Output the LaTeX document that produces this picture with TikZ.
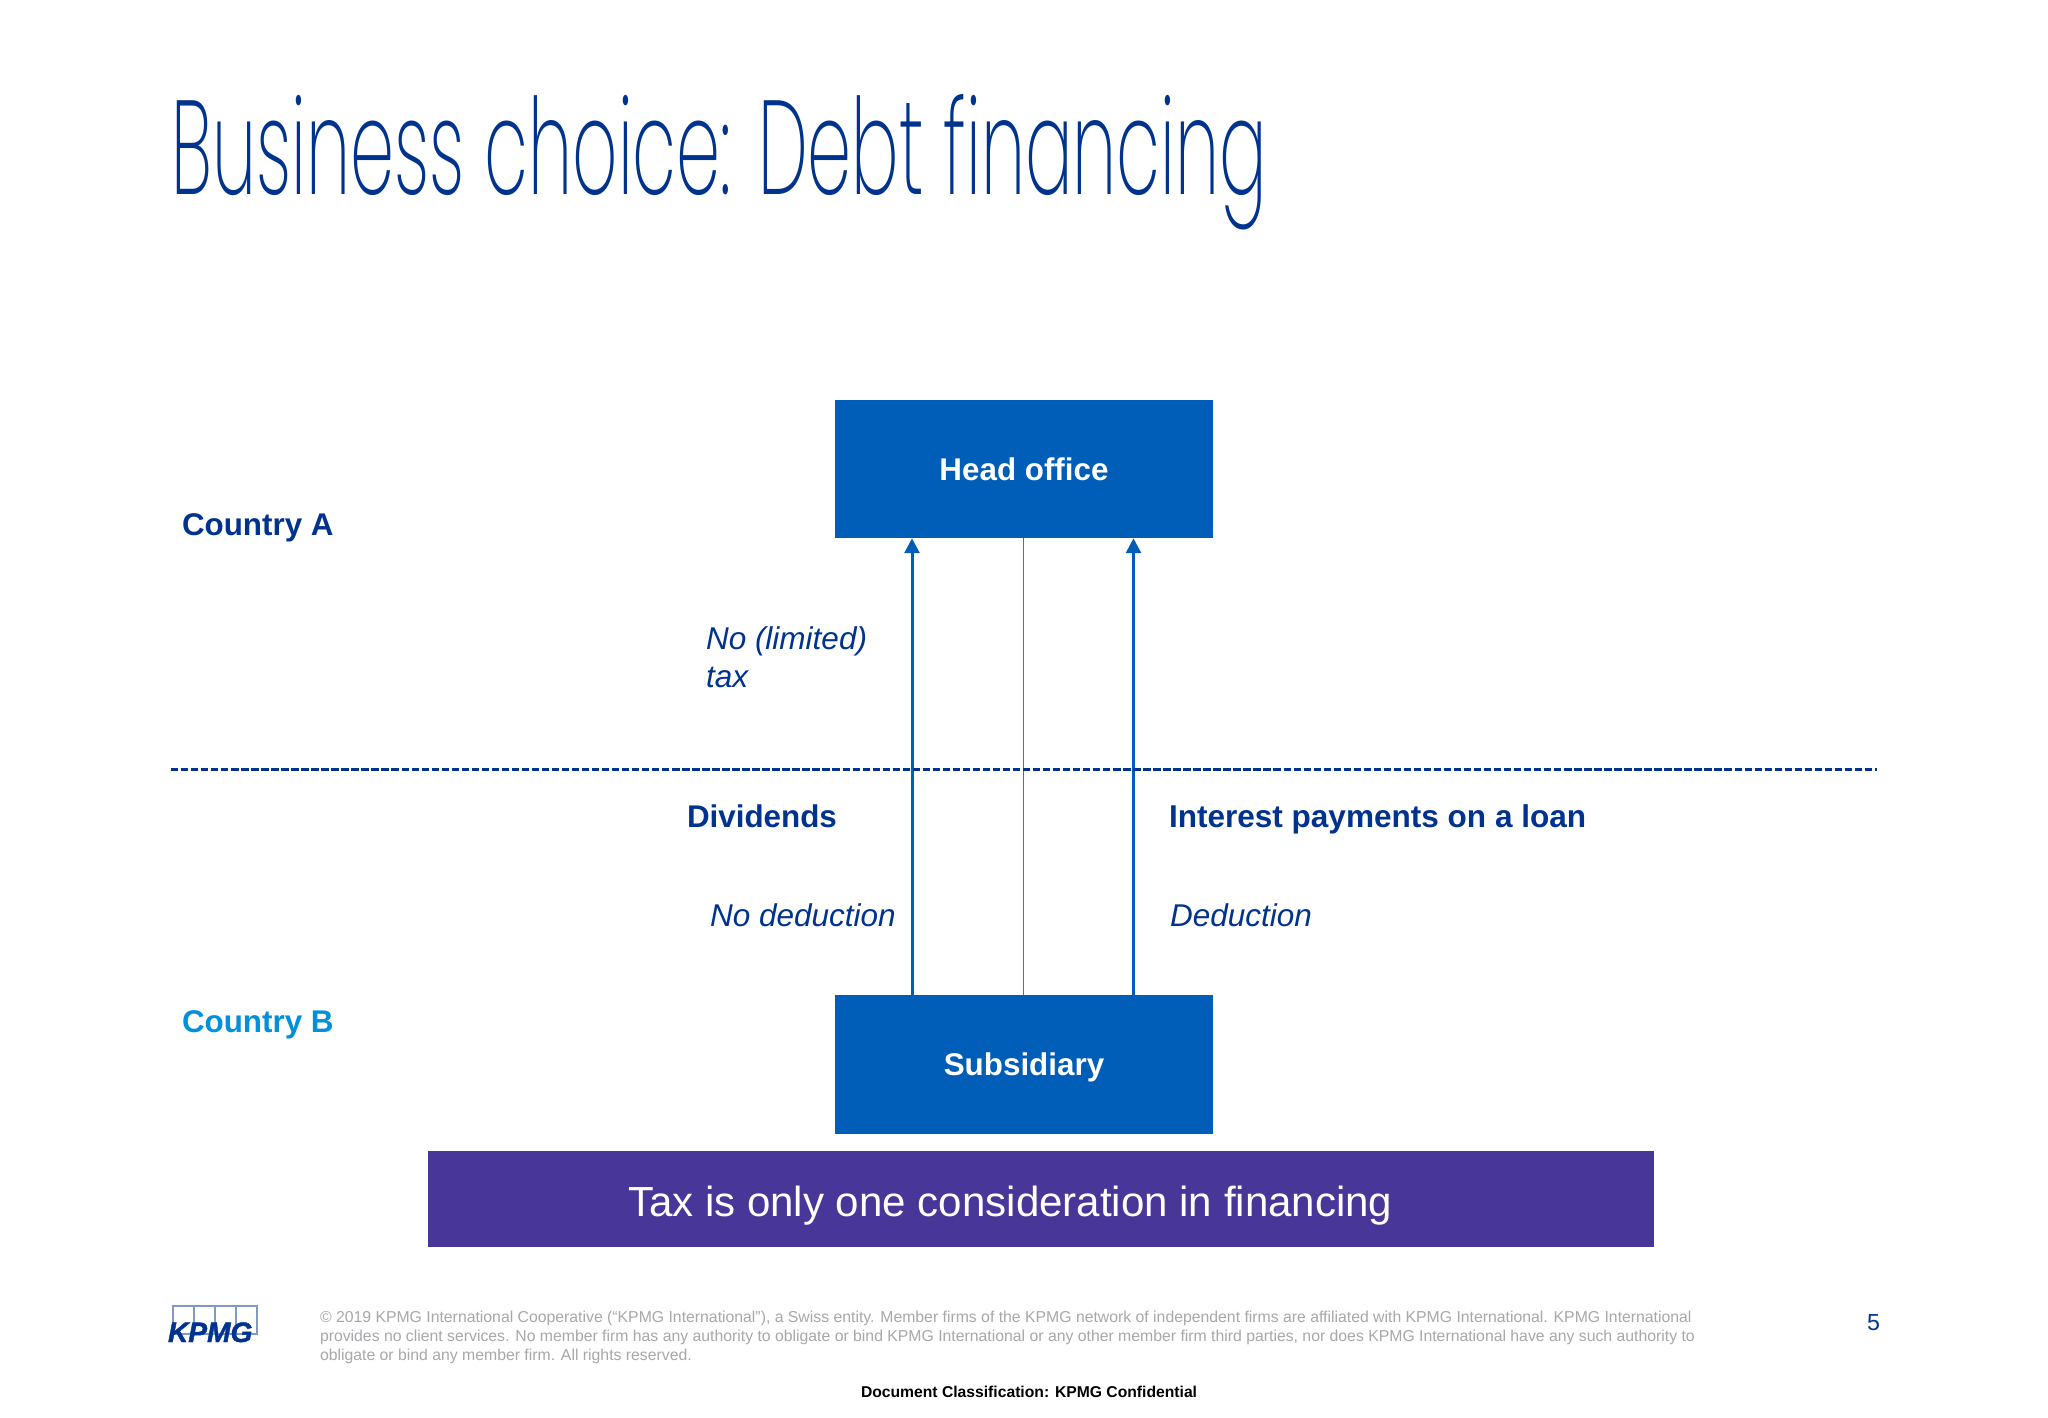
\documentclass[tikz,border=0pt]{standalone}
\usepackage{fontspec}
\usepackage{graphicx}
\usetikzlibrary{arrows.meta}
\setmainfont{Liberation Sans}
\newfontfamily\titlefont{Poppins ExtraLight}
\newfontfamily\logofont[FakeBold=1.5]{Liberation Sans Bold Italic}
\definecolor{kdark}{HTML}{00338D}
\definecolor{kblue}{HTML}{005EB8}
\definecolor{klight}{HTML}{0091DA}
\definecolor{kpurple}{HTML}{483698}
\definecolor{kgrey}{HTML}{A8A8AC}
\definecolor{kmid}{HTML}{2A7CC4}
\tikzset{
  x=0.01cm,y=-0.01cm,
  txt/.style={inner sep=0pt,outer sep=0pt,anchor=base west},
  boxb/.style={fill=kblue,draw=none,inner sep=0pt,outer sep=0pt,text=white,minimum width=3.775cm,minimum height=1.385cm,text height=6.4pt,text depth=0pt,font=\bfseries\fontsize{8.92}{11}\selectfont},
  headtxt/.style={txt,text=kdark,font=\bfseries\fontsize{8.92}{11}\selectfont},
  note/.style={txt,text=kdark,font=\itshape\fontsize{8.96}{11}\selectfont},
  flow/.style={draw=kblue,line width=0.85pt,-{Triangle[length=4.2pt,width=4.2pt]}},
}
\begin{document}
\begin{tikzpicture}
\useasboundingbox[fill=white] (0,0) rectangle (2048,1418);
\node[txt,text=kdark] (title) at (171.5,194.5) {\resizebox{10.95cm}{1.0cm}{\titlefont Business choice: Debt financing}};
% boxes
\node[boxb] (head) at (1024,469) {Head office};
\node[boxb] (sub) at (1024,1064.5) {Subsidiary};
\node[fill=kpurple,inner sep=0pt,outer sep=0pt,minimum width=12.25cm,minimum height=0.96cm] (band) at (1041.3,1199) {};
\node[txt,text=white,font=\fontsize{11.96}{15}\selectfont] (bandtxt) at (628,1216) {Tax is only one consideration in financing};
% connectors
\coordinate (a1) at (912,771);
\coordinate (a2) at (1023.7,771);
\coordinate (a3) at (1133.5,771);
\draw[flow] (sub.north -| a1) -- (head.south -| a1);
\draw[draw=kmid,line width=0.33pt] (sub.north -| a2) -- (head.south -| a2);
\draw[flow] (sub.north -| a3) -- (head.south -| a3);
% dashed separator
\coordinate (d1) at (171,769.5);
\coordinate (d2) at (1877,769.5);
\draw[draw=kdark,line width=0.75pt,dash pattern=on 2.1pt off 0.75pt] (d1) -- (d2);
% labels
\node[headtxt] (ca) at (182,535.5) {Country A};
\node[headtxt,text=klight] (cb) at (182,1032) {Country B};
\node[note,anchor=west,align=left,font=\itshape\fontsize{8.96}{10.9}\selectfont] (nl) at (706,657.5) {No (limited)\\tax};
\node[headtxt] (div) at (687,827) {Dividends};
\node[headtxt,font=\bfseries\fontsize{8.97}{11}\selectfont] (int) at (1169,827) {Interest payments on a loan};
\node[note] (nd) at (710,926) {No deduction};
\node[note] (de) at (1170,926) {Deduction};
% footer
\foreach \i in {0,1,2,3} {\draw[draw=kdark!50,line width=0.3pt] (173+\i*21,1306) rectangle (194+\i*21,1334);}
\node[txt,text=kdark,font=\logofont\fontsize{8}{10}\selectfont] (logo) at (168,1342) {KPMG};
\node[anchor=north west,inner sep=0pt,outer sep=0pt,align=left,text=kgrey,font=\fontsize{4.49}{5.27}\selectfont] (legal) at (320,1311.5) {© 2019 KPMG International Cooperative (“KPMG International”), a Swiss entity. Member firms of the KPMG network of independent firms are affiliated with KPMG International. KPMG International\\provides no client services. No member firm has any authority to obligate or bind KPMG International or any other member firm third parties, nor does KPMG International have any such authority to\\obligate or bind any member firm. All rights reserved.};
\node[txt,text=black,font=\bfseries\fontsize{4.46}{6}\selectfont] (class) at (861,1397.5) {Document Classification: KPMG Confidential};
\node[txt,text=kdark,font=\fontsize{6.6}{8}\selectfont] (pg) at (1867,1330.5) {5};
\end{tikzpicture}
\end{document}
